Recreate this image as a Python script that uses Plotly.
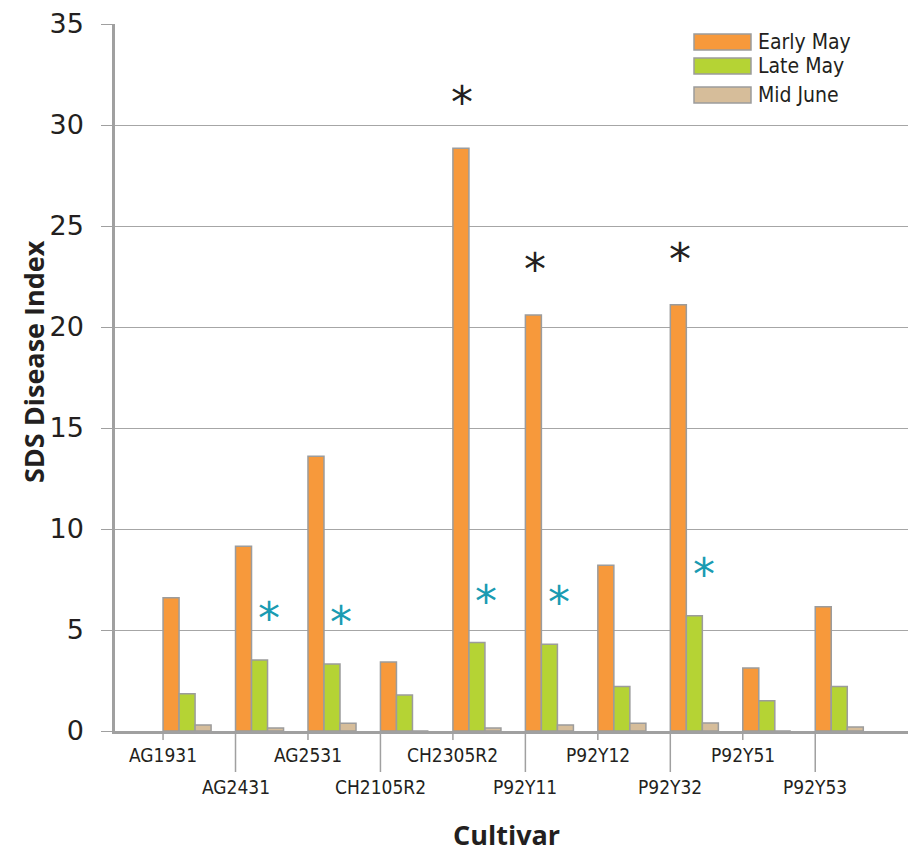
import plotly.graph_objects as go

cultivars = ["AG1931", "AG2431", "AG2531", "CH2105R2", "CH2305R2",
             "P92Y11", "P92Y12", "P92Y32", "P92Y51", "P92Y53"]
early_may = [6.6, 9.15, 13.6, 3.42, 28.85, 20.6, 8.2, 21.1, 3.12, 6.15]
late_may = [1.85, 3.52, 3.32, 1.78, 4.38, 4.3, 2.2, 5.7, 1.5, 2.2]
mid_june = [0.3, 0.15, 0.38, 0.0, 0.15, 0.3, 0.38, 0.4, 0.0, 0.2]
# significance markers (indices of cultivars)
sig_early = [4, 5, 7]          # black asterisks over Early May bars
sig_late = [1, 2, 4, 5, 7]     # teal asterisks next to Late May bars
y_ticks = [0, 5, 10, 15, 20, 25, 30, 35]

W, H = 911, 854
L, R, T, B = 115, 908, 24, 731   # plot area pixels

xs = list(range(len(cultivars)))
bw = 0.221
x_min, x_max = -0.663, 10.28

colors = {"Early May": "#F7993B", "Late May": "#B5D334", "Mid June": "#D6BD9A"}
outline = dict(color="#9C9C9C", width=1.5)

fig = go.Figure()
for k, (name, vals) in enumerate([("Early May", early_may), ("Late May", late_may), ("Mid June", mid_june)]):
    fig.add_trace(go.Bar(x=xs, y=vals, name=name, offset=k * bw, width=bw,
                         marker=dict(color=colors[name], line=outline),
                         showlegend=False))

def px_x(p):
    return (p - L) / (R - L)

def px_y(p):
    return (B - p) / (B - T)

shapes = []
annotations = []
narrow = "DejaVu Sans Condensed, Liberation Sans Narrow, Liberation Sans"
label_font = dict(family=narrow, size=19, color="#231F20")

# category ticks and staggered labels
for i, c in enumerate(cultivars):
    long = i % 2 == 1
    y_end = 772 if long else 740
    shapes.append(dict(type="line", xref="x", yref="paper", x0=i, x1=i,
                       y0=0, y1=px_y(y_end), line=dict(color="#A0A0A0", width=1.5)))
    annotations.append(dict(x=i, xref="x", y=px_y(y_end + 2), yref="paper", text=c,
                            showarrow=False, yanchor="top", xanchor="center",
                            font=label_font))

# asterisks
for i in sig_early:
    annotations.append(dict(x=i + bw / 2 + 0.02, xref="x", y=early_may[i] + 2.4, yref="y",
                            text="*", showarrow=False,
                            font=dict(family="DejaVu Sans", size=44, color="#231F20"),
                            yanchor="middle", yshift=-3))
for i in sig_late:
    annotations.append(dict(x=i + 0.46, xref="x", y=late_may[i] + 2.45, yref="y",
                            text="*", showarrow=False,
                            font=dict(family="DejaVu Sans", size=44, color="#1A9BB2"),
                            yanchor="middle", yshift=-8))

# manual legend
leg_rows = [("Early May", 34, 50), ("Late May", 58, 74), ("Mid June", 87, 103)]
for name, y0, y1 in leg_rows:
    shapes.append(dict(type="rect", xref="paper", yref="paper",
                       x0=px_x(694), x1=px_x(751), y0=px_y(y1), y1=px_y(y0),
                       fillcolor=colors[name], line=dict(color="#9C9C9C", width=1.5)))
    annotations.append(dict(x=px_x(756), xref="paper", y=px_y((y0 + y1) / 2), yref="paper",
                            text=name, showarrow=False, xanchor="left", yanchor="middle",
                            font=dict(family=narrow, size=21, color="#231F20")))

# axis titles
annotations.append(dict(x=px_x(33), xref="paper", y=px_y(362), yref="paper",
                        text="<b>SDS Disease Index</b>",
                        showarrow=False, textangle=-90, xanchor="center", yanchor="middle",
                        font=dict(family="Open Sans", size=27, color="#231F20")))
annotations.append(dict(x=px_x(506), xref="paper", y=px_y(834), yref="paper", text="<b>Cultivar</b>",
                        showarrow=False, xanchor="center", yanchor="middle", borderpad=0,
                        font=dict(family="Open Sans", size=27, color="#231F20")))

fig.update_layout(
    width=W, height=H,
    margin=dict(l=L, r=W - R, t=T, b=H - B, pad=0),
    paper_bgcolor="white", plot_bgcolor="white",
    barmode="overlay",
    shapes=shapes, annotations=annotations,
    showlegend=False,
    xaxis=dict(range=[x_min, x_max], showgrid=False, zeroline=False,
               showticklabels=False, ticks="",
               showline=True, linecolor="#A0A0A0", linewidth=2.5),
    yaxis=dict(range=[0, 35], tickvals=y_ticks, showgrid=True, gridcolor="#A6A6A6", gridwidth=1,
               zeroline=False, showline=True, linecolor="#A0A0A0", linewidth=2.5,
               ticks="outside", ticklen=11, tickcolor="#A0A0A0", tickwidth=1,
               ticklabelstandoff=12,
               tickfont=dict(family="DejaVu Sans", size=27, color="#231F20")),
)

fig.write_html("out.html", config={"displayModeBar": False},
               post_script="document.body.style.margin='0';document.body.style.padding='0';")
